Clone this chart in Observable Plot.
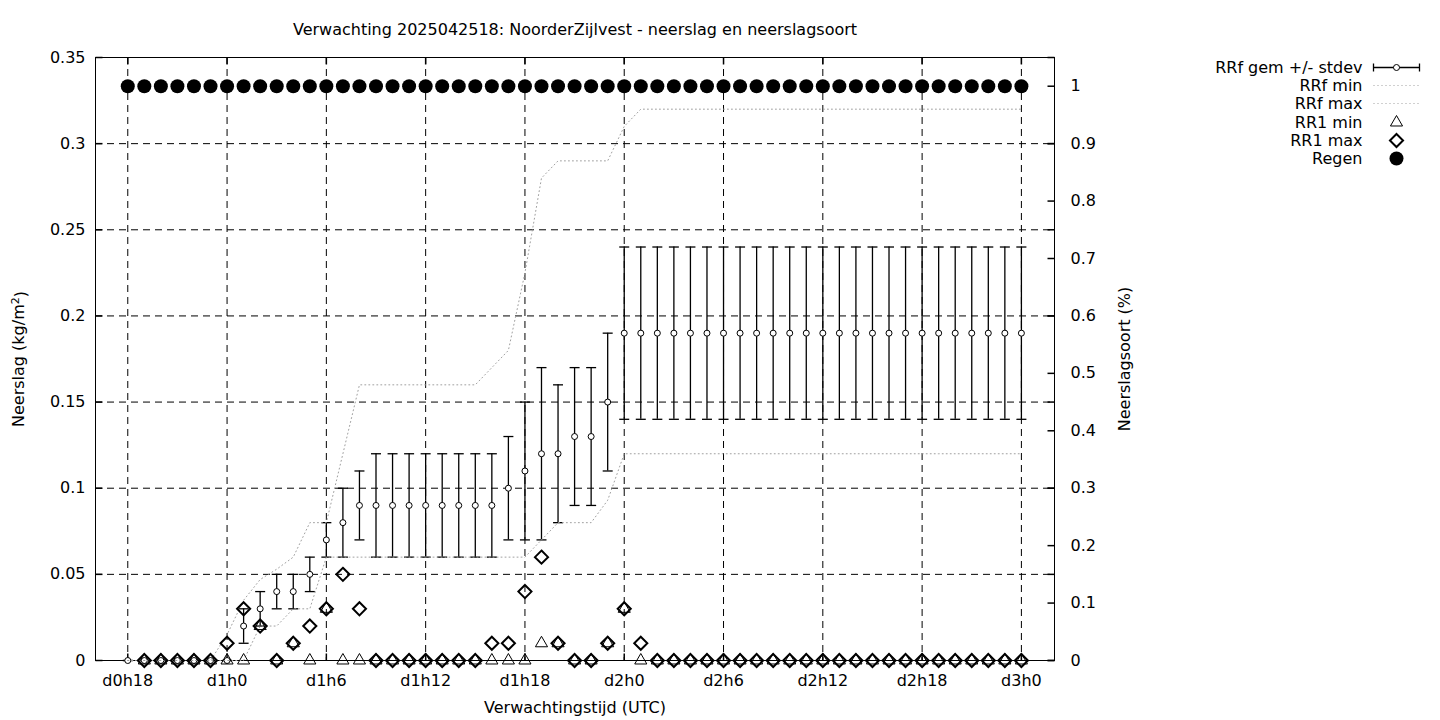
<!DOCTYPE html>
<html><head><meta charset="utf-8">
<script src="https://cdn.jsdelivr.net/npm/d3@7"></script>
<script src="https://cdn.jsdelivr.net/npm/@observablehq/plot@0.6"></script>
<style>body{margin:0;background:#fff} svg{display:block}</style>
</head><body><div id="chart"></div>
<script>
// forecast hour since d0h0
const hours = [18,19,20,21,22,23,24,25,26,27,28,29,30,31,32,33,34,35,36,37,38,39,40,41,42,43,44,45,46,47,48,49,50,51,52,53,54,55,56,57,58,59,60,61,62,63,64,65,66,67,68,69,70,71,72];
// RRf mean and stdev (kg/m2)
const rrfGem = [0,0,0,0,0,0,0,0.02,0.03,0.04,0.04,0.05,0.07,0.08,0.09,0.09,0.09,0.09,0.09,0.09,0.09,0.09,0.09,0.10,0.11,0.12,0.12,0.13,0.13,0.15,0.19,0.19,0.19,0.19,0.19,0.19,0.19,0.19,0.19,0.19,0.19,0.19,0.19,0.19,0.19,0.19,0.19,0.19,0.19,0.19,0.19,0.19,0.19,0.19,0.19];
const rrfStdev = [0,0,0,0,0,0,0,0.01,0.01,0.01,0.01,0.01,0.01,0.02,0.02,0.03,0.03,0.03,0.03,0.03,0.03,0.03,0.03,0.03,0.04,0.05,0.04,0.04,0.04,0.04,0.05,0.05,0.05,0.05,0.05,0.05,0.05,0.05,0.05,0.05,0.05,0.05,0.05,0.05,0.05,0.05,0.05,0.05,0.05,0.05,0.05,0.05,0.05,0.05,0.05];
const rrfMin = [0,0,0,0,0,0,0,0,0.02,0.02,0.03,0.03,0.06,0.06,0.06,0.06,0.06,0.06,0.06,0.06,0.06,0.06,0.06,0.06,0.06,0.07,0.08,0.08,0.08,0.093,0.12,0.12,0.12,0.12,0.12,0.12,0.12,0.12,0.12,0.12,0.12,0.12,0.12,0.12,0.12,0.12,0.12,0.12,0.12,0.12,0.12,0.12,0.12,0.12,0.12];
const rrfMax = [0,0,0,0,0,0,0.015,0.035,0.047,0.053,0.06,0.08,0.08,0.12,0.16,0.16,0.16,0.16,0.16,0.16,0.16,0.16,0.17,0.18,0.225,0.28,0.29,0.29,0.29,0.29,0.31,0.32,0.32,0.32,0.32,0.32,0.32,0.32,0.32,0.32,0.32,0.32,0.32,0.32,0.32,0.32,0.32,0.32,0.32,0.32,0.32,0.32,0.32,0.32,0.32];
// RR1 hourly min / max
const rr1Min = [null,0,0,0,0,0,0,0,0.02,0,0.01,0,0.03,0,0,0,0,0,0,0,0,0,0,0,0,0.01,0.01,0,0,0.01,0.03,0,0,0,0,0,0,0,0,0,0,0,0,0,0,0,0,0,0,0,0,0,0,0,0];
const rr1Max = [null,0,0,0,0,0,0.01,0.03,0.02,0,0.01,0.02,0.03,0.05,0.03,0,0,0,0,0,0,0,0.01,0.01,0.04,0.06,0.01,0,0,0.01,0.03,0.01,0,0,0,0,0,0,0,0,0,0,0,0,0,0,0,0,0,0,0,0,0,0,0];
// Regen fraction (right axis)
const regen = [1,1,1,1,1,1,1,1,1,1,1,1,1,1,1,1,1,1,1,1,1,1,1,1,1,1,1,1,1,1,1,1,1,1,1,1,1,1,1,1,1,1,1,1,1,1,1,1,1,1,1,1,1,1,1];

const xTicks = [18,24,30,36,42,48,54,60,66,72];
const xTickLabels = ["d0h18","d1h0","d1h6","d1h12","d1h18","d2h0","d2h6","d2h12","d2h18","d3h0"];
const yTicks = [0,0.05,0.1,0.15,0.2,0.25,0.3,0.35];
const yTickLabels = ["0","0.05","0.1","0.15","0.2","0.25","0.3","0.35"];
const y2Ticks = [0,0.1,0.2,0.3,0.4,0.5,0.6,0.7,0.8,0.9,1];
const y2TickLabels = ["0","0.1","0.2","0.3","0.4","0.5","0.6","0.7","0.8","0.9","1"];
const legendLabels = ["RRf gem +/- stdev","RRf min","RRf max","RR1 min","RR1 max","Regen"];

const title = "Verwachting 2025042518: NoorderZijlvest - neerslag en neerslagsoort";
const yLabelParts = ["Neerslag (kg/m", "2", ")"];
const yLabel = yLabelParts.join("");
const y2Label = "Neerslagsoort (%)";
const xLabel = "Verwachtingstijd (UTC)";

const yMax = 0.35, y2Max = 1.05;
const ratio = yMax / y2Max;

const rows = hours.map((h, i) => ({h, gem: rrfGem[i], sd: rrfStdev[i], min: rrfMin[i], max: rrfMax[i], r1min: rr1Min[i], r1max: rr1Max[i], regen: regen[i]}));

const font = "DejaVu Sans";
const fs = 16;
const mTop = 57, mRight = 386;

const cap = {draw(c){ c.moveTo(-5,0); c.lineTo(5,0); }};
const tickL = {draw(c){ c.moveTo(0,0); c.lineTo(7,0); }};
const tickR = {draw(c){ c.moveTo(-7,0); c.lineTo(0,0); }};
const tickB = {draw(c){ c.moveTo(0,0); c.lineTo(0,-7); }};
const tickT = {draw(c){ c.moveTo(0,0); c.lineTo(0,7); }};
const legErr = {draw(c){ c.moveTo(-23,0); c.lineTo(23,0); c.moveTo(-23,-4); c.lineTo(-23,4); c.moveTo(23,-4); c.lineTo(23,4); }};
const legLine = {draw(c){ c.moveTo(-23,0); c.lineTo(23,0); }};

const dash = "7,5";
const legendRowY = [67, 85, 103, 122, 140, 158];
const legX = 1362 - (1440 - mRight), legS = 1396 - (1440 - mRight);

const legendMarks = [];
legendLabels.forEach((lab, i) => {
  legendMarks.push(Plot.text([lab], {text: d => d, frameAnchor: "top-right", lineAnchor: "middle", dx: legX, dy: legendRowY[i] - mTop, textAnchor: "end", fontSize: fs, fill: "black"}));
});
const sampleOpts = (i) => ({frameAnchor: "top-right", dx: legS, dy: legendRowY[i] - mTop});
legendMarks.push(
  Plot.dot([0], {...sampleOpts(0), symbol: legErr, fill: "none", stroke: "black", strokeWidth: 1.3}),
  Plot.dot([0], {...sampleOpts(0), r: 3, fill: "white", stroke: "black", strokeWidth: 1}),
  Plot.dot([0], {...sampleOpts(1), symbol: legLine, fill: "none", stroke: "#a0a0a0", strokeWidth: 1, strokeDasharray: "1,3"}),
  Plot.dot([0], {...sampleOpts(2), symbol: legLine, fill: "none", stroke: "#a0a0a0", strokeWidth: 1, strokeDasharray: "1,3"}),
  Plot.dot([0], {...sampleOpts(3), symbol: "triangle", r: 4.5, fill: "none", stroke: "black", strokeWidth: 1}),
  Plot.dot([0], {...sampleOpts(4), symbol: "diamond2", r: 5.9, fill: "none", stroke: "black", strokeWidth: 2}),
  Plot.dot([0], {...sampleOpts(5), r: 7, fill: "black", stroke: "none"})
);

const chart = Plot.plot({
  width: 1440, height: 720,
  marginTop: mTop, marginBottom: 60, marginLeft: 95, marginRight: mRight,
  style: {fontFamily: font, fontSize: fs + "px", background: "white", color: "black"},
  x: {domain: [16.05, 74], axis: null},
  y: {domain: [0, yMax], axis: null},
  marks: [
    Plot.gridY(yTicks.slice(1, -1), {stroke: "black", strokeOpacity: 1, strokeWidth: 1, strokeDasharray: dash}),
    Plot.gridX(xTicks, {stroke: "black", strokeOpacity: 1, strokeWidth: 1, strokeDasharray: dash}),
    Plot.frame({stroke: "black", strokeWidth: 1}),
    // ticks
    Plot.dot(yTicks, {y: d => d, frameAnchor: "left", symbol: tickL, fill: "none", stroke: "black"}),
    Plot.dot(y2Ticks, {y: d => d * ratio, frameAnchor: "right", symbol: tickR, fill: "none", stroke: "black"}),
    Plot.dot(yTicks, {y: d => d, frameAnchor: "right", symbol: tickR, fill: "none", stroke: "black"}),
    Plot.dot(xTicks, {x: d => d, frameAnchor: "bottom", symbol: tickB, fill: "none", stroke: "black"}),
    Plot.dot(xTicks, {x: d => d, frameAnchor: "top", symbol: tickT, fill: "none", stroke: "black"}),
    // tick labels
    Plot.text(yTicks, {y: d => d, text: (d, i) => yTickLabels[i], frameAnchor: "left", lineAnchor: "middle", dx: -10, textAnchor: "end", fontSize: fs}),
    Plot.text(y2Ticks, {y: d => d * ratio, text: (d, i) => y2TickLabels[i], frameAnchor: "right", lineAnchor: "middle", dx: 16, textAnchor: "start", fontSize: fs}),
    Plot.text(xTicks, {x: d => d, text: (d, i) => xTickLabels[i], frameAnchor: "bottom", lineAnchor: "middle", dy: 20, fontSize: fs}),
    // axis labels & title
    Plot.text([title], {text: d => d, frameAnchor: "top", lineAnchor: "middle", dy: 29 - mTop, fontSize: fs}),
    Plot.text([xLabel], {text: d => d, frameAnchor: "bottom", lineAnchor: "middle", dy: 47, fontSize: fs}),
    Plot.text([yLabel], {text: d => d, frameAnchor: "left", textAnchor: "middle", lineAnchor: "middle", dx: -77, rotate: -90, fontSize: fs}),
    Plot.text([y2Label], {text: d => d, frameAnchor: "right", textAnchor: "middle", lineAnchor: "middle", dx: 70, rotate: -90, fontSize: fs}),
    // RRf error bars
    Plot.ruleX(rows, {x: "h", y1: d => d.gem - d.sd, y2: d => d.gem + d.sd, stroke: "black", strokeWidth: 1.3}),
    Plot.dot(rows, {x: "h", y: d => d.gem + d.sd, symbol: cap, fill: "none", stroke: "black", strokeWidth: 1.3}),
    Plot.dot(rows, {x: "h", y: d => d.gem - d.sd, symbol: cap, fill: "none", stroke: "black", strokeWidth: 1.3}),
    Plot.dot(rows, {x: "h", y: "gem", r: 3, fill: "white", stroke: "black", strokeWidth: 1}),
    // RRf min / max
    Plot.line(rows, {x: "h", y: "min", stroke: "#a0a0a0", strokeWidth: 1, strokeDasharray: "1,3"}),
    Plot.line(rows, {x: "h", y: "max", stroke: "#a0a0a0", strokeWidth: 1, strokeDasharray: "1,3"}),
    // RR1 min / max
    Plot.dot(rows.filter(d => d.r1min != null), {x: "h", y: "r1min", symbol: "triangle", r: 4.5, fill: "none", stroke: "black", strokeWidth: 1}),
    Plot.dot(rows.filter(d => d.r1max != null), {x: "h", y: "r1max", symbol: "diamond2", r: 5.9, fill: "none", stroke: "black", strokeWidth: 2}),
    // Regen
    Plot.dot(rows, {x: "h", y: d => d.regen * ratio, r: 7, fill: "black", stroke: "none"}),
    ...legendMarks
  ]
});
// superscript 2 in the y label
d3.select(chart).selectAll("text").filter(function(){ return this.textContent === yLabel; }).each(function(){
  const t = d3.select(this);
  t.text(null);
  t.append("tspan").text(yLabelParts[0]);
  t.append("tspan").attr("dy", "-0.45em").attr("font-size", "11px").text(yLabelParts[1]);
  t.append("tspan").attr("dy", "0.45em").text(yLabelParts[2]);
});
document.getElementById("chart").appendChild(chart);
</script>
</body></html>
